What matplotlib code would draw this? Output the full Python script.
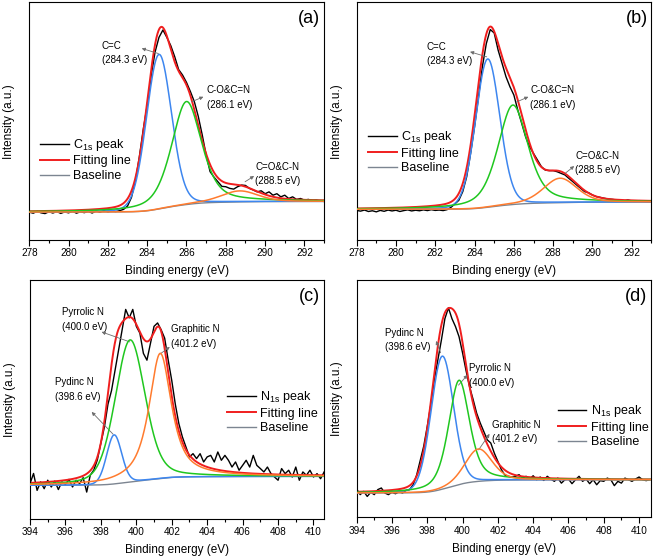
import matplotlib
matplotlib.use("Agg")
import matplotlib.pyplot as plt
from matplotlib.ticker import MultipleLocator
import numpy as np

plt.rcParams['font.family'] = ['Liberation Sans', 'DejaVu Sans']
plt.rcParams['mathtext.fontset'] = 'custom'
plt.rcParams['mathtext.rm'] = 'Liberation Sans'

# =============================================================================
# measured spectra (read off the picture, 0.2 eV steps)
# =============================================================================
c1s_a_start = 278.0
c1s_a = [0.000, -0.006, 0.004, -0.004, -0.008, 0.002, -0.005, 0.003, -0.007, 0.001,
         -0.004, 0.005, -0.006, 0.002, -0.003, 0.004, -0.005, 0.006, 0.000, 0.008,
         0.002, 0.006, 0.003,
         0.008, 0.015, 0.033, 0.08, 0.17, 0.30, 0.45, 0.58, 0.74, 0.87,
         0.95, 0.99, 0.95, 0.905, 0.845, 0.775, 0.745, 0.705, 0.655, 0.60,
         0.52, 0.42, 0.31, 0.22, 0.19, 0.165, 0.14, 0.138, 0.129, 0.125,
         0.138, 0.147, 0.145, 0.129, 0.12, 0.11, 0.116, 0.10, 0.11, 0.092,
         0.10, 0.083, 0.092, 0.074, 0.083, 0.069, 0.074, 0.065, 0.069, 0.062,
         0.065, 0.06, 0.058]

c1s_b_start = 278.0
c1s_b = [-0.006, -0.010, -0.004, -0.012, -0.008, -0.014, -0.006, -0.011, -0.004, -0.009,
         -0.005, -0.012, -0.007, -0.003, -0.009, -0.005, -0.008, -0.003, -0.007, -0.002,
         -0.006, -0.004, -0.007,
         -0.002, 0.011, 0.03, 0.05, 0.098, 0.18, 0.31, 0.457, 0.62, 0.79,
         0.917, 0.994, 0.975, 0.88, 0.807, 0.733, 0.678, 0.632, 0.549, 0.475,
         0.40, 0.346, 0.309, 0.273, 0.236, 0.217, 0.214, 0.214, 0.208, 0.199,
         0.19, 0.171, 0.153, 0.134, 0.116, 0.098, 0.092, 0.079, 0.07, 0.066,
         0.061, 0.057, 0.055, 0.052, 0.05, 0.046, 0.052, 0.046, 0.044, 0.048,
         0.044, 0.042, 0.042]

n1s_c_start = 394.0
n1s_c = [0.01, 0.07, -0.03, 0.02, -0.02, 0.03, -0.01, 0.025, -0.025, 0.02,
         0.005, 0.035, -0.01, 0.03, 0.01, 0.045, -0.04, 0.06, 0.09, 0.15,
         0.25, 0.345, 0.48, 0.56, 0.68, 0.80, 0.92, 1.04, 0.99, 1.04,
         0.94, 0.90, 0.78, 0.74, 0.84, 0.94, 0.96, 0.92, 0.87, 0.74,
         0.62, 0.48, 0.365, 0.286, 0.227, 0.168, 0.187, 0.158, 0.187, 0.138,
         0.168, 0.177, 0.138, 0.197, 0.148, 0.177, 0.148, 0.108, 0.138, 0.089,
         0.118, 0.148, 0.108, 0.177, 0.118, 0.099, 0.079, 0.108, 0.069, 0.049,
         0.03, 0.099, 0.069, 0.089, 0.049, 0.108, 0.03, 0.079, 0.059, 0.089,
         0.049, 0.069, 0.039, 0.079]

n1s_d_start = 394.0
n1s_d = [0.022, -0.009, 0.009, -0.019, 0.004, -0.009, 0.019, 0.028, 0.0, -0.009,
         0.004, -0.004, 0.007, 0.0, 0.015, 0.019, 0.046, 0.10, 0.18, 0.26,
         0.37, 0.49, 0.63, 0.74, 0.85, 0.97, 1.03, 0.97, 0.926, 0.87,
         0.78, 0.68, 0.59, 0.52, 0.444, 0.39, 0.343, 0.296, 0.278, 0.222,
         0.176, 0.13, 0.10, 0.093, 0.089, 0.093, 0.102, 0.083, 0.093, 0.078,
         0.096, 0.074, 0.089, 0.07, 0.093, 0.078, 0.065, 0.083, 0.055, 0.074,
         0.078, 0.052, 0.074, 0.093, 0.065, 0.078, 0.052, 0.074, 0.046, 0.069,
         0.065, 0.083, 0.074, 0.041, 0.065, 0.055, 0.083, 0.074, 0.065, 0.078,
         0.089, 0.074, 0.069, 0.074]

# =============================================================================
# fitted peaks: centre (eV), height, FWHM (eV), lorentz fraction
# baseline: low / high end of the Shirley background
# =============================================================================
a_centre = [284.6, 286.0, 288.7]
a_height = [0.84, 0.56, 0.06]
a_fwhm = [1.5, 1.8, 2.2]
a_eta = [0.1, 0.5, 0.3]
a_bg = [0.0, 0.058]

b_centre = [284.67, 285.95, 288.35]
b_height = [0.82, 0.55, 0.135]
b_fwhm = [1.45, 1.8, 2.0]
b_eta = [0.1, 0.5, 0.3]
b_bg = [0.0, 0.04]

c_centre = [398.75, 399.65, 401.35]
c_height = [0.29, 0.84, 0.74]
c_fwhm = [1.0, 2.0, 1.5]
c_eta = [0.1, 0.3, 0.8]
c_bg = [0.0, 0.053]

d_centre = [398.85, 399.8, 400.9]
d_height = [0.74, 0.58, 0.18]
d_fwhm = [1.5, 1.4, 1.8]
d_eta = [0.1, 0.5, 0.3]
d_bg = [0.0, 0.074]

comp_colors = ['#3d86ef', '#1fc71f', '#ff7b2e']
fit_color = '#f01e1e'
bg_color = '#7c8591'


def pvoigt(x, c, h, w, eta):
    u = ((x - c) / w) ** 2
    g = np.exp(-4 * np.log(2) * u)
    l = 1 / (1 + 4 * u)
    return h * (eta * l + (1 - eta) * g)


def panel(ax, start, counts, xlim, ylim, ticks, centre, height, fwhm, eta, bg,
          peakname, notes, arrows, leg_anchor, tag):
    e = start + 0.2 * np.arange(len(counts))
    xf = np.linspace(xlim[0], xlim[1], 900)
    peaks = [pvoigt(xf, c, h, w, k) for c, h, w, k in zip(centre, height, fwhm, eta)]
    total = np.sum(peaks, axis=0)
    base = bg[0] + (bg[1] - bg[0]) * np.cumsum(total) / np.sum(total)

    ax.plot(e, counts, color='black', lw=1.0, zorder=1, label=peakname)
    ax.plot(xf, base + total, color=fit_color, lw=1.4, zorder=2, label='Fitting line')
    ax.plot(xf, base, color=bg_color, lw=1.0, zorder=3, label='Baseline')
    for p, col, z in zip(peaks, comp_colors, [4, 5, 6]):
        ax.plot(xf, base + p, color=col, lw=1.1, zorder=z)

    for (tx, ty, s) in notes:
        ax.text(tx, ty, s, fontsize=7, ha='left', va='center', linespacing=1.55)
    for (tail, head) in arrows:
        ax.annotate('', xy=head, xytext=tail,
                    arrowprops=dict(arrowstyle='-|>', color='#6d6d6d', lw=0.6,
                                    mutation_scale=5, shrinkA=0, shrinkB=0))

    ax.set_xlim(xlim)
    ax.set_ylim(ylim)
    ax.set_xticks(ticks)
    ax.xaxis.set_minor_locator(MultipleLocator(1))
    ax.set_yticks([])
    ax.tick_params(axis='x', which='major', direction='out', length=4, width=0.8,
                   labelsize=7.2, pad=2)
    ax.tick_params(axis='x', which='minor', direction='out', length=2, width=0.8)
    for sp in ax.spines.values():
        sp.set_linewidth(0.8)
    ax.set_xlabel('Binding energy (eV)', fontsize=8.5, labelpad=5)
    ax.set_ylabel('Intensity (a.u.)', fontsize=8.5, labelpad=10)
    ax.text(0.987, 0.93, tag, transform=ax.transAxes, ha='right', va='center', fontsize=13)
    ax.legend(loc='center left', bbox_to_anchor=leg_anchor, frameon=False, fontsize=9.0,
              borderpad=0, borderaxespad=0, handlelength=2.3, handletextpad=0.35,
              labelspacing=0.2)


fig = plt.figure(figsize=(6.58, 5.57), dpi=100)
ax_a = fig.add_axes([0.0445, 0.569, 0.448, 0.427])
ax_b = fig.add_axes([0.542, 0.569, 0.448, 0.427])
ax_c = fig.add_axes([0.0456, 0.068, 0.447, 0.429])
ax_d = fig.add_axes([0.542, 0.0713, 0.448, 0.426])

panel(ax_a, c1s_a_start, c1s_a, (278, 293), (-0.152, 1.141), np.arange(278, 293, 2),
      a_centre, a_height, a_fwhm, a_eta, a_bg, 'C$_{\\mathrm{1s}}$ peak',
      [(281.70, 0.864, 'C=C\n(284.3 eV)'),
       (287.03, 0.622, 'C-O&C=N\n(286.1 eV)'),
       (289.49, 0.207, 'C=O&C-N\n(288.5 eV)')],
      [((284.57, 0.862), (283.72, 0.89)),
       ((286.27, 0.60), (286.86, 0.627)),
       ((288.98, 0.165), (289.44, 0.196))],
      (0.036, 0.339), '(a)')

panel(ax_b, c1s_b_start, c1s_b, (278, 293), (-0.17, 1.145), np.arange(278, 293, 2),
      b_centre, b_height, b_fwhm, b_eta, b_bg, 'C$_{\\mathrm{1s}}$ peak',
      [(281.57, 0.859, 'C=C\n(284.3 eV)'),
       (286.83, 0.618, 'C-O&C=N\n(286.1 eV)'),
       (289.12, 0.256, 'C=O&C-N\n(288.5 eV)')],
      [((284.62, 0.843), (283.77, 0.871)),
       ((286.15, 0.594), (286.74, 0.622)),
       ((288.61, 0.199), (289.07, 0.239))],
      (0.039, 0.371), '(b)')

panel(ax_c, n1s_c_start, n1s_c, (394, 410.6), (-0.20, 1.213), np.arange(394, 411, 2),
      c_centre, c_height, c_fwhm, c_eta, c_bg, 'N$_{\\mathrm{1s}}$ peak',
      [(395.79, 0.981, 'Pyrrolic N\n(400.0 eV)'),
       (401.98, 0.879, 'Graphitic N\n(401.2 eV)'),
       (395.41, 0.567, 'Pydinc N\n(398.6 eV)')],
      [((399.63, 0.848), (398.04, 0.907)),
       ((401.32, 0.775), (401.89, 0.818)),
       ((398.69, 0.302), (397.48, 0.434))],
      (0.669, 0.449), '(c)')

panel(ax_d, n1s_d_start, n1s_d, (394, 410.7), (-0.135, 1.185), np.arange(394, 411, 2),
      d_centre, d_height, d_fwhm, d_eta, d_bg, 'N$_{\\mathrm{1s}}$ peak',
      [(395.61, 0.852, 'Pydinc N\n(398.6 eV)'),
       (400.34, 0.653, 'Pyrrolic N\n(400.0 eV)'),
       (401.67, 0.338, 'Graphitic N\n(401.2 eV)')],
      [((398.76, 0.78), (398.5, 0.846)),
       ((399.77, 0.60), (400.28, 0.657)),
       ((400.91, 0.24), (401.53, 0.329))],
      (0.682, 0.386), '(d)')

fig.savefig('out.png', dpi=100)
